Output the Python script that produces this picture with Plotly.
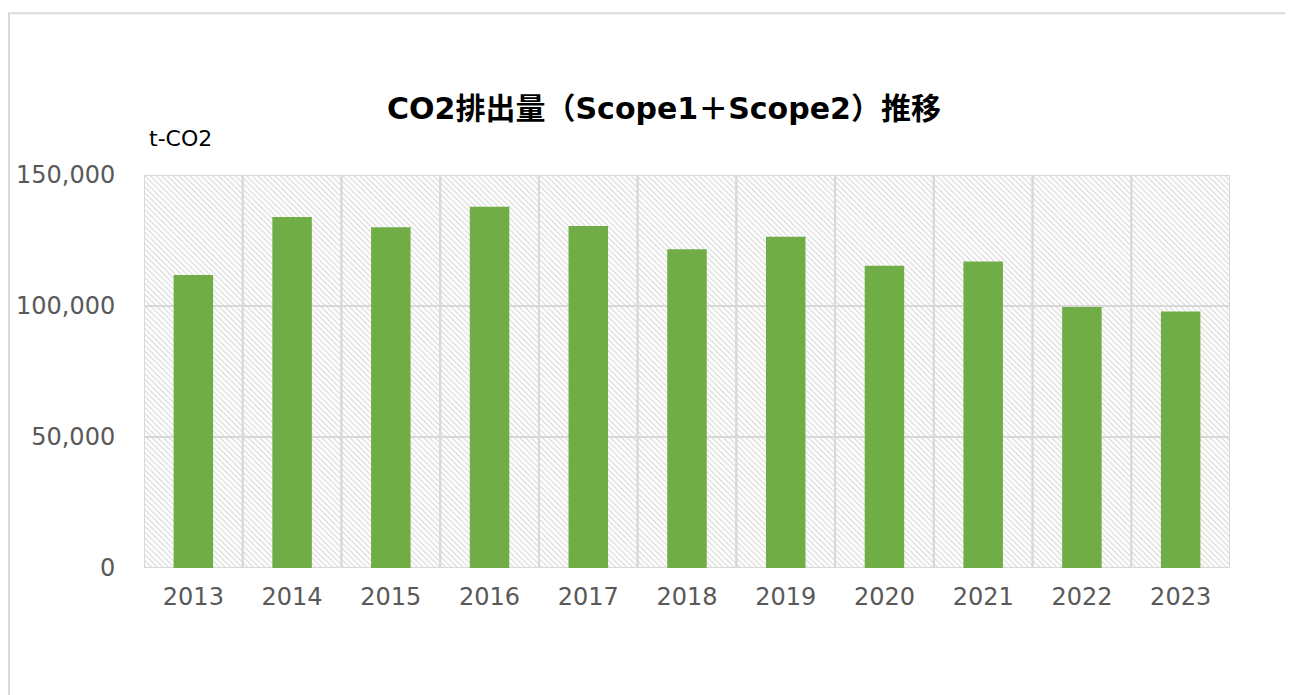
import plotly.graph_objects as go

years = ["2013", "2014", "2015", "2016", "2017", "2018", "2019", "2020", "2021", "2022", "2023"]
emissions = [111800, 134000, 130100, 137900, 130500, 121700, 126400, 115400, 117000, 99600, 97900]
y_ticks = [0, 50000, 100000, 150000]
y_tick_labels = ["0", "50,000", "100,000", "150,000"]
y_max = 150000

title_text = "CO2排出量（Scope1＋Scope2）推移"
unit_text = "t-CO2"

# page has an 8px body margin; coordinates below are in figure space
OFF = 8
W, H = 1293, 695
px_left, px_right, px_top, px_bottom = 144 - OFF, 1230 - OFF, 175 - OFF, 568.5 - OFF
L, R, T, B = px_left, W - px_right, px_top, H - px_bottom
PW, PH = px_right - px_left, px_bottom - px_top

font_main = "Noto Sans CJK JP"
tick_font = "DejaVu Sans"
grey = "#595959"
grid = "#d9d9d9"
green = "#70AD47"

fig = go.Figure()
# hatched plot-area background with category boundary lines
fig.add_trace(go.Bar(
    x=years, y=[y_max] * len(years), width=1,
    marker=dict(color="#d4d4d4", line=dict(color=grid, width=2),
                pattern=dict(shape="\\", size=4, solidity=0.28, fillmode="replace")),
    hoverinfo="skip", showlegend=False,
))
fig.add_trace(go.Bar(
    x=years, y=emissions, width=0.4,
    marker=dict(color=green, line=dict(width=0)),
    showlegend=False,
))

fig.update_layout(
    width=W, height=H,
    margin=dict(l=L, r=R, t=T, b=B, autoexpand=False),
    barmode="overlay",
    paper_bgcolor="white", plot_bgcolor="white",
    font=dict(family=font_main, color=grey),
    title=dict(text=title_text, x=(664 - OFF) / W, xanchor="center", xref="container",
               y=1 - (108 - OFF) / H, yanchor="middle", yref="container",
               font=dict(family="DejaVu Sans, Noto Sans CJK JP", size=30, color="black", weight="bold")),
    xaxis=dict(type="category", showgrid=False, zeroline=False, showline=False,
               ticks="outside", ticklen=7, tickcolor="rgba(0,0,0,0)",
               tickfont=dict(family=tick_font, size=24, color=grey),
               range=[-0.5, len(years) - 0.5]),
    yaxis=dict(range=[0, y_max], tickvals=y_ticks, ticktext=y_tick_labels,
               showgrid=True, gridcolor=grid, gridwidth=2, zeroline=False, showline=False,
               ticks="outside", ticklen=23, tickcolor="rgba(0,0,0,0)",
               tickfont=dict(family=tick_font, size=24, color=grey)),
    annotations=[dict(text=unit_text, xref="paper", yref="paper",
                      x=(147 - OFF - px_left) / PW, y=(px_bottom - (138 - OFF)) / PH,
                      xanchor="left", yanchor="middle", showarrow=False,
                      font=dict(family=tick_font, size=22, color="black"))],
    shapes=[dict(type="rect", xref="paper", yref="paper",
                 x0=(9 - OFF - px_left) / PW, x1=(1320 - px_left) / PW,
                 y0=(px_bottom - 720) / PH, y1=(px_bottom - (13 - OFF)) / PH,
                 line=dict(color=grid, width=2), fillcolor="rgba(0,0,0,0)", layer="below")],
)

fig.write_html("out.html")
